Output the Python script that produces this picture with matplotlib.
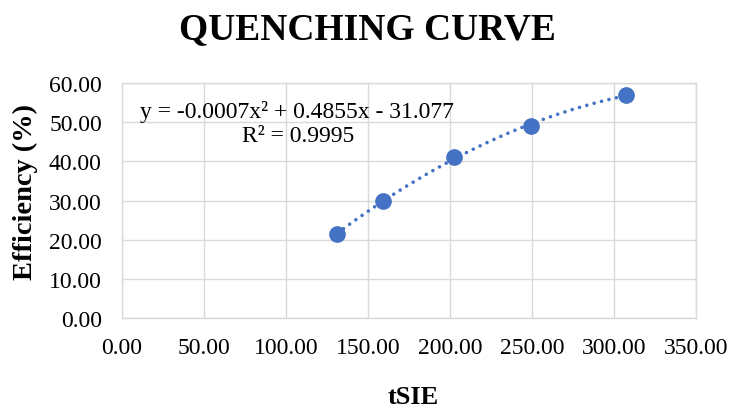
import numpy as np
import matplotlib.pyplot as plt

tsie = [131.3, 159.4, 202.7, 249.2, 307.3]
efficiency = [21.5, 30.0, 41.0, 49.1, 56.9]
x_ticks = [0, 50, 100, 150, 200, 250, 300, 350]
y_ticks = [0, 10, 20, 30, 40, 50, 60]

plt.rcParams['font.family'] = ['Liberation Serif', 'DejaVu Serif']
blue = '#4472C4'
grid_c = '#D9D9D9'

W, H = 731, 410
fig = plt.figure(figsize=(W / 100, H / 100), dpi=100)
ax = fig.add_axes([122 / W, 1 - 319 / H, 574 / W, 235 / H])

# quadratic trendline fitted to the points
coef = np.polyfit(tsie, efficiency, 2)
xs = np.linspace(min(tsie), max(tsie), 200)
ax.plot(xs, np.polyval(coef, xs), color=blue, lw=2.6, ls=(0, (0.01, 2.1)),
        dash_capstyle='round', zorder=2)
ax.plot(tsie, efficiency, 'o', color=blue, ms=11, zorder=3)

ax.set_xlim(0, 350)
ax.set_ylim(0, 60)
ax.set_xticks(x_ticks)
ax.set_yticks(y_ticks)
ax.set_xticklabels([f"{v:.2f}" for v in x_ticks], fontsize=17)
ax.set_yticklabels([f"{v:.2f}" for v in y_ticks], fontsize=17)
ax.tick_params(axis='y', length=0, pad=14.5)
ax.tick_params(axis='x', length=0, pad=14)
ax.grid(True, color=grid_c, lw=1.0)
ax.set_axisbelow(True)
for s in ax.spines.values():
    s.set_color(grid_c)
    s.set_linewidth(1.0)

fig.text(140 / W, 1 - 112 / H, 'y = -0.0007x² + 0.4855x - 31.077', ha='left', va='center',
         fontsize=17)
fig.text(298 / W, 1 - 137 / H, 'R² = 0.9995', ha='center', va='center', fontsize=17)

fig.text(367 / W, 1 - 30 / H, 'QUENCHING CURVE', ha='center', va='center',
         fontsize=27, fontweight='bold')
fig.text(413 / W, 1 - 398 / H, 'tSIE', ha='center', va='center',
         fontsize=19, fontweight='bold')
fig.text(25 / W, 1 - 192 / H, 'Efficiency (%)', ha='center', va='center',
         rotation=90, fontsize=20.5, fontweight='bold')

fig.savefig('out.png', dpi=100)
